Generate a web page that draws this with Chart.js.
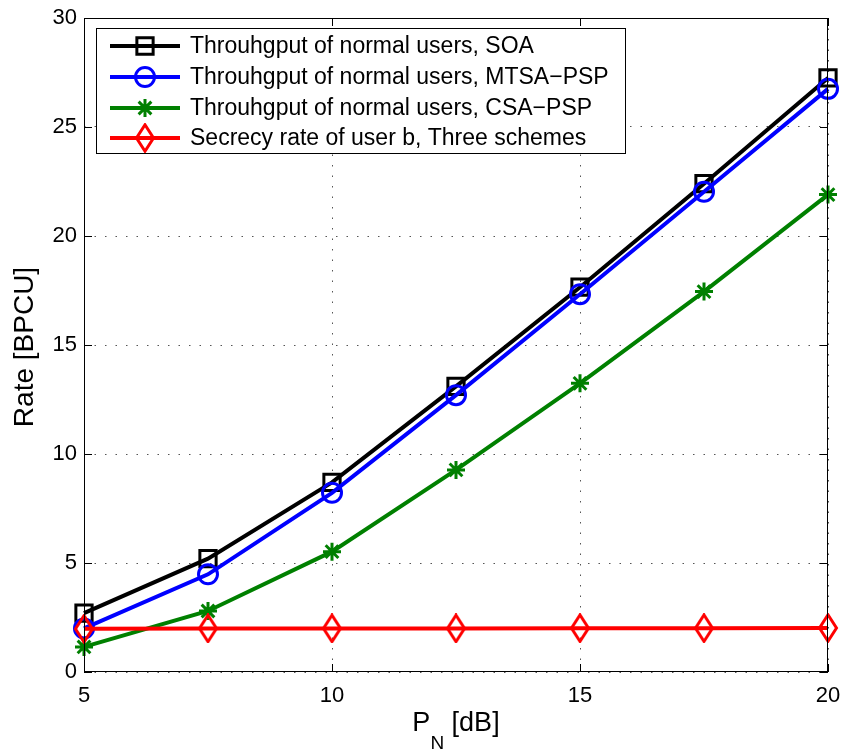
<!DOCTYPE html>
<html>
<head>
<meta charset="utf-8">
<script src="https://cdn.jsdelivr.net/npm/chart.js@4/dist/chart.umd.min.js"></script>
<style>
  html, body { margin: 0; padding: 0; background: #fff; }
  #wrap { width: 843px; height: 749px; }
</style>
</head>
<body>
<div id="wrap"><canvas id="rateChart" width="843" height="749"></canvas></div>
<script>
// P_N sweep (dB)
const pn = [5, 7.5, 10, 12.5, 15, 17.5, 20];
const soaRate = [2.7, 5.2, 8.7, 13.1, 17.65, 22.4, 27.25];
const mtsaRate = [2.0, 4.48, 8.22, 12.7, 17.33, 22.03, 26.75];
const csaRate = [1.15, 2.8, 5.52, 9.27, 13.24, 17.45, 21.9];
const secrecyRate = [1.98, 2.0, 2.0, 2.0, 2.01, 2.01, 2.02];

const seriesNames = [
    'Throuhgput of normal users, SOA',
    'Throuhgput of normal users, MTSA\u2212PSP',
    'Throuhgput of normal users, CSA\u2212PSP',
    'Secrecy rate of user b, Three schemes'
];
const xTicks = [5, 10, 15, 20];
const yTicks = [0, 5, 10, 15, 20, 25, 30];

const FONT = 'Liberation Sans, Arial, Helvetica, sans-serif';

// tall open diamond, like the matlab 'd' marker
function diamondMarker(color) {
    const c = document.createElement('canvas');
    c.width = 22; c.height = 30;
    const g = c.getContext('2d');
    g.strokeStyle = color;
    g.lineWidth = 3;
    g.lineJoin = 'miter';
    g.beginPath();
    g.moveTo(11, 1.8); g.lineTo(19.5, 15); g.lineTo(11, 28.2); g.lineTo(2.5, 15);
    g.closePath();
    g.stroke();
    return c;
}
const diamond = diamondMarker('#ff0000');

function mkSeries(name, ys, color, style, radius, order) {
    return {
        label: name,
        data: pn.map((x, i) => ({ x: x, y: ys[i] })),
        borderColor: color,
        borderWidth: 4,
        pointStyle: style,
        pointRadius: radius,
        pointHoverRadius: radius,
        pointBorderColor: color,
        pointBackgroundColor: 'rgba(0,0,0,0)',
        pointBorderWidth: 3,
        tension: 0,
        clip: false,
        order: order
    };
}

const datasets = [
    mkSeries(seriesNames[0], soaRate, '#000000', 'rect', 11.5, 3),
    mkSeries(seriesNames[1], mtsaRate, '#0000ff', 'circle', 9.5, 2),
    mkSeries(seriesNames[2], csaRate, '#008000', 'star', 9, 1),
    mkSeries(seriesNames[3], secrecyRate, '#ff0000', diamond, 10, 0)
];

// axes box, inward ticks, axis titles and the legend box
const framePlugin = {
    id: 'frame',
    afterDraw(chart) {
        const ctx = chart.ctx;
        const a = chart.chartArea;
        const xs = chart.scales.x, ys = chart.scales.y;
        ctx.save();
        ctx.strokeStyle = '#000';
        ctx.lineWidth = 1;
        ctx.strokeRect(a.left + 0.5, a.top + 0.5, a.right - a.left - 1, a.bottom - a.top - 1);

        const tl = 8;
        ctx.beginPath();
        xTicks.forEach(v => {
            const px = Math.round(xs.getPixelForValue(v)) + 0.5;
            ctx.moveTo(px, a.bottom); ctx.lineTo(px, a.bottom - tl);
            ctx.moveTo(px, a.top); ctx.lineTo(px, a.top + tl);
        });
        yTicks.forEach(v => {
            const py = Math.round(ys.getPixelForValue(v)) + 0.5;
            ctx.moveTo(a.left, py); ctx.lineTo(a.left + tl, py);
            ctx.moveTo(a.right, py); ctx.lineTo(a.right - tl, py);
        });
        ctx.stroke();

        // x title with subscript
        ctx.fillStyle = '#000';
        ctx.textBaseline = 'alphabetic';
        ctx.textAlign = 'left';
        const big = '27px ' + FONT, small = '19px ' + FONT;
        ctx.font = big; const wP = ctx.measureText('P').width;
        const wRest = ctx.measureText(' [dB]').width;
        ctx.font = small; const wN = ctx.measureText('N').width;
        let tx = (a.left + a.right) / 2 - (wP + wN + wRest) / 2;
        ctx.font = big; ctx.fillText('P', tx, 731); tx += wP;
        ctx.font = small; ctx.fillText('N', tx, 749); tx += wN;
        ctx.font = big; ctx.fillText(' [dB]', tx, 731);

        // y title
        ctx.save();
        ctx.translate(33, (a.top + a.bottom) / 2 + 2);
        ctx.rotate(-Math.PI / 2);
        ctx.textAlign = 'center';
        ctx.font = '28px ' + FONT;
        ctx.fillText('Rate [BPCU]', 0, 0);
        ctx.restore();

        // legend
        const box = { l: 96, t: 28, r: 625, b: 153 };
        ctx.fillStyle = '#fff';
        ctx.fillRect(box.l, box.t, box.r - box.l, box.b - box.t);
        ctx.strokeStyle = '#000';
        ctx.lineWidth = 1;
        ctx.strokeRect(box.l + 0.5, box.t + 0.5, box.r - box.l, box.b - box.t);
        const rowY = [46, 77, 108, 138];
        chart.data.datasets.forEach((ds, i) => {
            const y = rowY[i];
            ctx.strokeStyle = ds.borderColor;
            ctx.lineWidth = 4;
            ctx.beginPath();
            ctx.moveTo(110, y); ctx.lineTo(180, y);
            ctx.stroke();
            drawMarker(ctx, ds, 145, y);
            ctx.fillStyle = '#000';
            ctx.textAlign = 'left';
            ctx.textBaseline = 'middle';
            ctx.font = '23px ' + FONT;
            ctx.fillText(ds.label, 190, y + 1);
        });
        ctx.restore();
    }
};

function drawMarker(ctx, ds, x, y) {
    const r = ds.pointRadius;
    ctx.save();
    ctx.strokeStyle = ds.pointBorderColor;
    ctx.lineWidth = ds.pointBorderWidth;
    ctx.beginPath();
    if (ds.pointStyle === 'rect') {
        const s = Math.SQRT1_2 * r;
        ctx.rect(x - s, y - s, 2 * s, 2 * s);
    } else if (ds.pointStyle === 'circle') {
        ctx.arc(x, y, r, 0, Math.PI * 2);
    } else if (ds.pointStyle === 'star') {
        for (let k = 0; k < 4; k++) {
            const ang = k * Math.PI / 4;
            ctx.moveTo(x - Math.cos(ang) * r, y - Math.sin(ang) * r);
            ctx.lineTo(x + Math.cos(ang) * r, y + Math.sin(ang) * r);
        }
    } else {
        const img = ds.pointStyle;
        ctx.drawImage(img, x - img.width / 2, y - img.height / 2);
    }
    ctx.stroke();
    ctx.restore();
}

new Chart(document.getElementById('rateChart').getContext('2d'), {
    type: 'line',
    data: { datasets: datasets },
    options: {
        responsive: false,
        animation: false,
        events: [],
        layout: { padding: { left: 0, top: 18, right: 15, bottom: 0 } },
        plugins: { legend: { display: false }, tooltip: { enabled: false } },
        scales: {
            x: {
                type: 'linear',
                min: 5, max: 20,
                afterFit: s => { s.height = 77; s.paddingLeft = 0; s.paddingRight = 0; },
                afterBuildTicks: s => { s.ticks = xTicks.map(v => ({ value: v })); },
                ticks: { color: '#000', font: { family: FONT, size: 22 }, padding: 11, maxRotation: 0 },
                grid: { color: '#555', lineWidth: 1, drawTicks: false },
                border: { display: false, dash: [1.5, 9] }
            },
            y: {
                type: 'linear',
                min: 0, max: 30,
                afterFit: s => { s.width = 84; s.paddingTop = 0; s.paddingBottom = 0; },
                afterBuildTicks: s => { s.ticks = yTicks.map(v => ({ value: v })); },
                ticks: { color: '#000', font: { family: FONT, size: 22 }, padding: 7 },
                grid: { color: '#555', lineWidth: 1, drawTicks: false },
                border: { display: false, dash: [1.5, 9] }
            }
        }
    },
    plugins: [framePlugin]
});
</script>
</body>
</html>
